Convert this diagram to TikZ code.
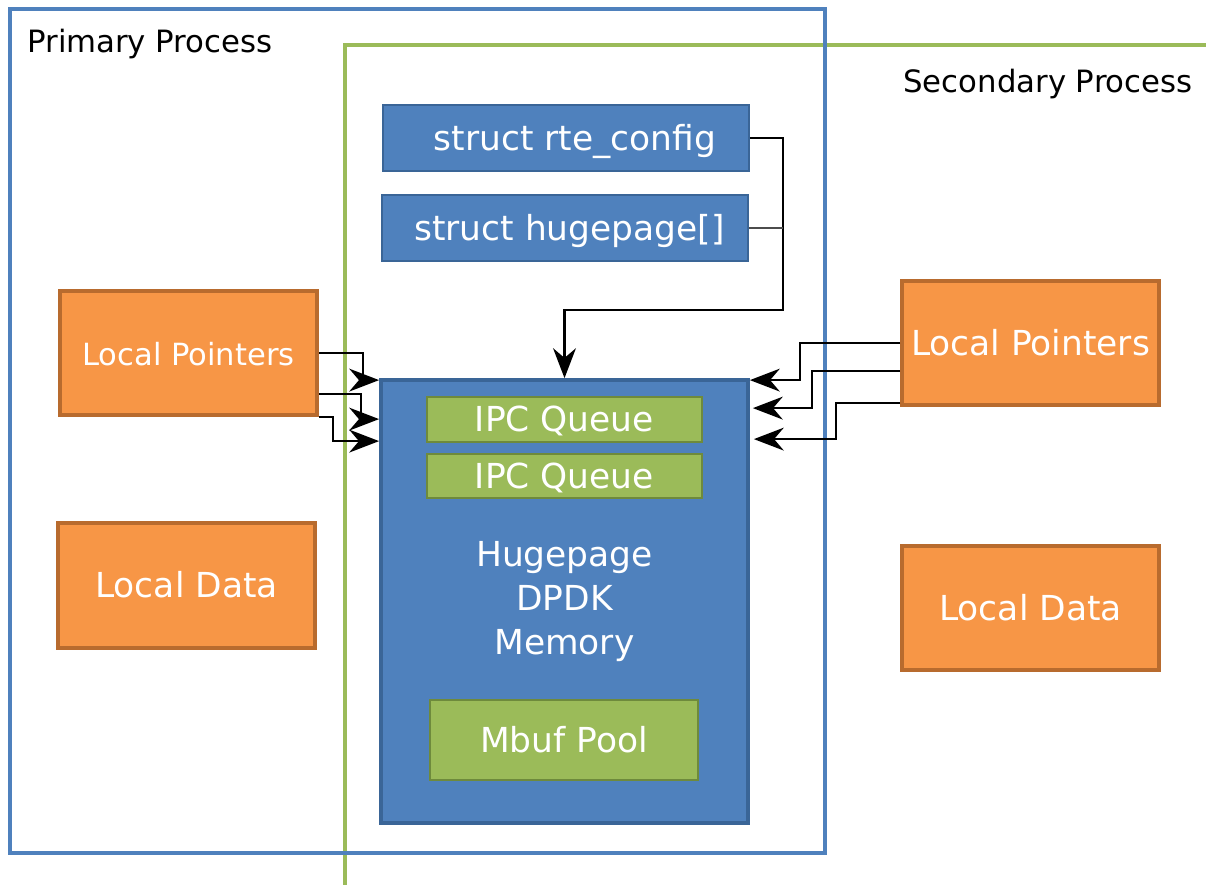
\documentclass[tikz,border=0pt]{standalone}
\usepackage{fontspec}
\setmainfont{DejaVu Sans}
\usetikzlibrary{arrows.meta,calc}
\definecolor{hpblue}{HTML}{4F81BD}
\definecolor{hpdark}{HTML}{3A6597}
\definecolor{lporange}{HTML}{F79646}
\definecolor{lpdark}{HTML}{B86B2E}
\definecolor{ipcgreen}{HTML}{9BBB59}
\definecolor{ipcdark}{HTML}{6E8A3C}
\tikzset{
  lowtext/.style={text height=14.9pt,text depth=1.2pt},
  bluebox/.style={draw=hpdark,fill=hpblue,line width=1pt,text=white,inner sep=0pt,
    font=\fontsize{19.6}{24.9}\selectfont},
  orangebox/.style={draw=lpdark,fill=lporange,line width=2.2pt,text=white,inner sep=0pt,
    minimum width=5.14cm,lowtext,font=\fontsize{19.6}{24.9}\selectfont},
  greenbox/.style={draw=ipcdark,fill=ipcgreen,line width=1.2pt,text=white,inner sep=0pt,
    lowtext,font=\fontsize{19.6}{24.9}\selectfont},
  conn/.style={line width=1.3pt,-{Stealth[length=17pt,width=13pt]}},
  title/.style={inner sep=0pt,anchor=base west,font=\fontsize{17.5}{21}\selectfont}
}
\begin{document}
\begin{tikzpicture}[x=0.02cm,y=-0.02cm]
\useasboundingbox (0,0) rectangle (1206,885);

% process frames
\draw[ipcgreen,line width=2.3pt](345,885)--(345,45)--(1206,45);
\draw[hpblue,line width=2.3pt](10,9) rectangle (825,853);
\node[title] (prim) at (27,53) {Primary Process};
\node[title] (sec) at (903,93) {Secondary Process};

% shared structures
\node[bluebox,lowtext,minimum width=7.32cm,minimum height=1.32cm] (rte) at (566,138) {\hspace*{0.36cm}struct rte\_config};
\node[bluebox,lowtext,minimum width=7.32cm,minimum height=1.32cm] (hug) at (565,228) {\hspace*{0.18cm}struct hugepage[]};
\node[bluebox,line width=2.2pt,minimum width=7.34cm,minimum height=8.86cm,align=center] (hp) at (564.5,601.5) {Hugepage\\DPDK\\Memory};
\node[greenbox,minimum width=5.5cm,minimum height=0.9cm] (ipca) at (564.5,419.5) {IPC Queue};
\node[greenbox,minimum width=5.5cm,minimum height=0.88cm] (ipcb) at (564.5,476) {IPC Queue};
\node[greenbox,minimum width=5.36cm,minimum height=1.6cm] (mbuf) at (564,740) {Mbuf Pool};

% local parts
\node[orangebox,minimum height=2.48cm,font=\fontsize{17.4}{21}\selectfont] (lpl) at (188.5,353) {Local Pointers};
\node[orangebox,minimum height=2.5cm] (ldl) at (186.5,585.5) {Local Data};
\node[orangebox,minimum height=2.48cm] (rpl) at (1030.5,343) {Local Pointers};
\node[orangebox,minimum height=2.48cm] (rdl) at (1030.5,608) {Local Data};

% connectors
\draw[conn](rte.east)--++(33,0)--++(0,172)-|(hp.north);
\draw[black!70,line width=0.7pt](hug.east)--++(34,0);

\draw[conn](lpl.east)--++(44,0)|-($(hp.north west)+(0,2)$);
\draw[conn]($(lpl.south east)+(0,-23)$)--++(42,0)|-($(hp.north west)+(0,41)$);
\draw[conn](lpl.south east)--++(14,0)|-($(hp.north west)+(0,63)$);

\draw[conn](rpl.west)--++(-100,0)|-($(hp.north east)+(0,2)$);
\draw[conn]($(rpl.west)+(0,28)$)--++(-88,0)|-($(hp.north east)+(3,30)$);
\draw[conn]($(rpl.south west)+(0,-4)$)--++(-64,0)|-($(hp.north east)+(4,61)$);

\end{tikzpicture}
\end{document}
